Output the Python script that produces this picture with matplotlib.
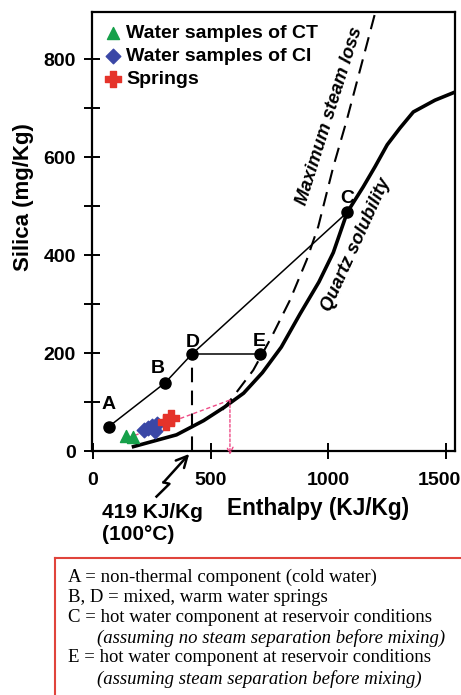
import matplotlib
matplotlib.use("Agg")
import matplotlib.pyplot as plt
import matplotlib.transforms as mtransforms
from matplotlib.lines import Line2D

plt.rcParams['font.family'] = ['Liberation Sans', 'DejaVu Sans']

# Sample data (enthalpy in KJ/Kg, silica in mg/Kg)
ct_enthalpy = [140, 170]
ct_silica = [30, 29]
ci_enthalpy = [218, 236, 252, 262, 272]
ci_silica = [43, 47, 52, 40, 55]
spring_enthalpy = [312, 332]
spring_silica = [60, 68]

# Mixing model end-members and mixed waters
pt_labels = ['A', 'B', 'D', 'C']
pt_enthalpy = [68, 306, 419, 1080]
pt_silica = [50, 139, 197, 487]
e_enthalpy = 708
e_silica = 197
boiling_enthalpy = 419

# Quartz solubility curve
quartz_enthalpy = [165, 355, 470, 560, 640, 720, 800, 880, 960, 1021, 1080, 1148, 1198, 1250, 1304, 1361, 1453, 1540]
quartz_silica = [8, 33, 62, 90, 118, 160, 212, 280, 345, 405, 487, 539, 580, 625, 659, 692, 716, 733]

# Maximum steam loss curve
steam_enthalpy = [550, 596, 681, 759, 837, 908, 957, 1021, 1078, 1202]
steam_silica = [84, 111, 165, 233, 308, 390, 458, 580, 675, 900]

# Projection of the sample trend onto the quartz curve
proj_enthalpy = [122, 582]
proj_silica = [22, 104]

W, H = 461, 695
fig = plt.figure(figsize=(W / 100, H / 100), dpi=100)


def fx(px):
    return px / W


def fy(py):
    return 1 - py / H


ax = fig.add_axes([fx(92), fy(451), fx(455) - fx(92), fy(12) - fy(451)])
ax.set_xlim(-4, 1538)
ax.set_ylim(0, 896)

for s in ax.spines.values():
    s.set_linewidth(1.6)

ax.set_xticks([0, 500, 1000, 1500])
ax.set_yticks([0, 200, 400, 600, 800])
ax.set_yticks([100, 300, 500, 700], minor=True)
ax.tick_params(which='both', direction='inout', length=12, width=1.4, labelsize=14)
ax.tick_params(axis='x', pad=9)
ax.tick_params(axis='y', pad=5.5)
for lab in ax.get_xticklabels() + ax.get_yticklabels():
    lab.set_fontweight('bold')
# keep the last enthalpy label inside the figure
last = ax.get_xticklabels()[-1]
last.set_transform(last.get_transform() +
                   mtransforms.ScaledTranslation(-7 / 100, 0, fig.dpi_scale_trans))

# Curves
ax.plot(quartz_enthalpy, quartz_silica, color='black', lw=2.6, solid_capstyle='butt', zorder=3)
ax.plot(steam_enthalpy, steam_silica, color='black', lw=1.5, dashes=(7, 4), zorder=3)

# Mixing line A-B-D-C and steam-separation line D-E
ax.plot(pt_enthalpy, pt_silica, color='black', lw=1.1, zorder=4)
ax.plot([pt_enthalpy[2], e_enthalpy], [pt_silica[2], e_silica], color='black', lw=1.1, zorder=4)
ax.plot([boiling_enthalpy, boiling_enthalpy], [0, pt_silica[2]], color='black', lw=1.5,
        dashes=(7, 4), zorder=3)
ax.plot(pt_enthalpy + [e_enthalpy], pt_silica + [e_silica], 'o', color='black', ms=8,
        linestyle='none', zorder=5)

label_offsets = {'A': (0, 45), 'B': (-30, 30), 'D': (6, 25), 'C': (0, 28)}
for name, h, si in zip(pt_labels, pt_enthalpy, pt_silica):
    dx, dy = label_offsets[name]
    ax.text(h + dx, si + dy, name, ha='center', va='center', fontsize=14, fontweight='bold')
ax.text(e_enthalpy - 3, e_silica + 27, 'E', ha='center', va='center', fontsize=14, fontweight='bold')

# Projection lines
pink = '#ee4a86'
ax.plot(proj_enthalpy, proj_silica, color=pink, lw=1.0, dashes=(3, 2), zorder=4)
ax.annotate('', xy=(proj_enthalpy[1], -8), xytext=(proj_enthalpy[1], proj_silica[1]),
            arrowprops=dict(arrowstyle='->', color=pink, lw=1.0, linestyle=(0, (2, 1.5)),
                            shrinkA=0, shrinkB=0, mutation_scale=11),
            annotation_clip=False, zorder=4)

# Samples
ct = ax.scatter(ct_enthalpy, ct_silica, marker='^', s=75, color='#16a04a', zorder=6,
                label='Water samples of CT')
ci = ax.scatter(ci_enthalpy, ci_silica, marker='D', s=55, color='#3a47a6', zorder=6,
                label='Water samples of CI')
sp = ax.scatter(spring_enthalpy, spring_silica, marker='P', s=120, color='#e5332a', zorder=7,
                label='Springs')

leg = ax.legend(handles=[ct, ci, sp], loc='upper left', bbox_to_anchor=(0.028, 0.980),
                frameon=False, handlelength=0.7, handletextpad=0.35, labelspacing=0.28,
                borderpad=0.2, borderaxespad=0.0, prop=dict(size=14, weight='bold'),
                scatterpoints=1)

# Curve names
ax.text(1007, 684, 'Maximum steam loss', rotation=72.5, ha='center', va='center',
        fontsize=13.3, fontweight='bold', fontstyle='italic')
ax.text(1117, 420, 'Quartz solubility', rotation=65.5, ha='center', va='center',
        fontsize=13.3, fontweight='bold', fontstyle='italic')

# Zig-zag pointer to the boiling-point enthalpy
ax.plot([270, 325, 300], [-93, -67, -64], color='black', lw=1.8, clip_on=False)
ax.annotate('', xy=(409, -6), xytext=(300, -64),
            arrowprops=dict(arrowstyle='->', color='black', lw=1.8, shrinkA=0, shrinkB=0,
                            mutation_scale=20),
            annotation_clip=False)

fig.text(fx(102), fy(513), '419 KJ/Kg', ha='left', va='center', fontsize=15, fontweight='bold')
fig.text(fx(102), fy(535), '(100°C)', ha='left', va='center', fontsize=15, fontweight='bold')

# Axis titles
fig.text(fx(318), fy(508), 'Enthalpy (KJ/Kg)', ha='center', va='center', fontsize=16.3,
         fontweight='bold')
fig.text(fx(24), fy(197), 'Silica (mg/Kg)', ha='center', va='center', rotation=90,
         fontsize=16, fontweight='bold')

# Explanation box
box_red = '#e0443c'
fig.add_artist(Line2D([fx(55), fx(461)], [fy(558), fy(558)], color=box_red, lw=1.5))
fig.add_artist(Line2D([fx(55), fx(55)], [fy(558), fy(695)], color=box_red, lw=1.5))

notes = [
    (68, 577, 'A = non-thermal component (cold water)', 'normal'),
    (68, 597, 'B, D = mixed, warm water springs', 'normal'),
    (68, 618, 'C = hot water component at reservoir conditions', 'normal'),
    (97, 638, '(assuming no steam separation before mixing)', 'italic'),
    (68, 658, 'E = hot water component at reservoir conditions', 'normal'),
    (97, 679, '(assuming steam separation before mixing)', 'italic'),
]
for px, py, txt, style in notes:
    fig.text(fx(px), fy(py), txt, ha='left', va='center', fontsize=13.5,
             family='Liberation Serif', fontstyle=style)

fig.savefig('out.png', dpi=100)
